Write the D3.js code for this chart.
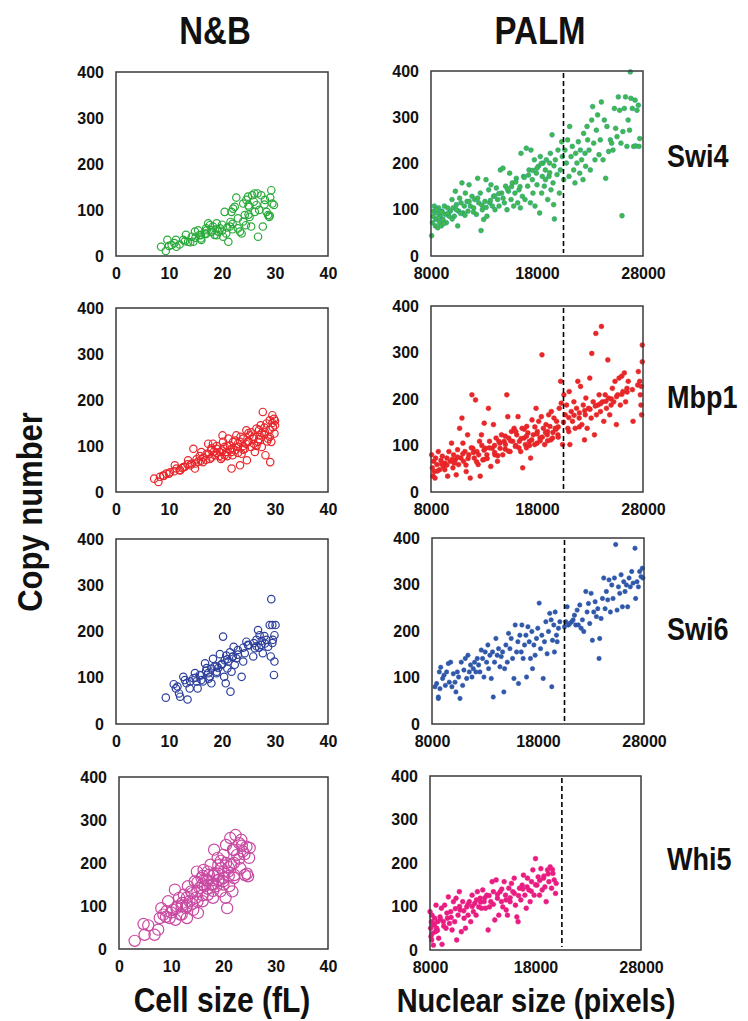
<!DOCTYPE html>
<html>
<head>
<meta charset="utf-8">
<script src="https://cdn.jsdelivr.net/npm/d3@7"></script>
<style>
  body { margin: 0; background: #fff; }
  text { font-family: "Liberation Sans", Arial, sans-serif; font-weight: bold; fill: #111; }
</style>
</head>
<body>
<svg id="chart" width="748" height="1021"></svg>
<script>
// ---- data: [x, y] pairs ----
// N&B: x = cell size (fL), y = copy number
const nbSwi4 = [[8.5,20],[9.4,11],[9.7,35],[10.5,24],[11.4,20],[11.3,35],[12.7,35],[13.2,46],[13.6,31],[14.3,42],[14.6,31],[14.9,53],[15.5,56],[15.8,46],[16.1,35],[16.8,49],[17.1,56],[17.4,71],[17.7,67],[18.0,56],[18.3,64],[18.6,46],[19.0,71],[19.3,53],[19.6,60],[20.2,42],[20.5,96],[20.8,49],[21.2,31],[21.5,64],[21.6,74],[21.8,96],[22.1,103],[22.4,107],[22.7,127],[23.0,82],[23.4,53],[23.7,49],[24.0,114],[24.3,89],[24.5,67],[24.6,122],[24.9,129],[25.1,107],[25.2,85],[25.5,64],[25.7,132],[26.1,136],[26.2,96],[26.5,111],[26.7,136],[26.8,42],[27.4,132],[27.7,64],[28.1,122],[28.4,96],[28.7,89],[28.9,85],[29.1,127],[29.3,143],[29.5,114],[29.8,111],[12,25],[13,32],[15,40],[16,45],[17,48],[17,60],[18,52],[19,58],[20,55],[21,62],[22,58],[22,70],[16,38],[14,30],[11,28],[19,45],[20,68],[23,60],[24,75],[25,90],[25,110],[26,118],[27,100],[28,112],[29,88],[10,22]];

const nbMbp1 = [[7.2,29],[8.0,22],[8.3,33],[8.9,36],[9.5,40],[10.2,43],[11.1,58],[11.4,51],[12.1,47],[12.7,54],[13.6,69],[14.3,62],[14.6,94],[14.9,51],[15.2,71],[15.8,78],[16.1,87],[16.4,65],[17.1,83],[17.4,105],[17.7,72],[18.0,91],[18.3,105],[18.6,80],[19.0,94],[19.6,87],[19.8,72],[20.1,123],[20.2,109],[20.5,98],[20.8,87],[21.2,116],[21.5,101],[21.8,51],[21.8,87],[22.1,109],[22.4,91],[22.7,123],[23.0,98],[23.4,58],[23.4,109],[23.7,83],[24.0,116],[24.3,94],[24.6,134],[24.7,69],[24.9,109],[25.2,123],[25.5,98],[25.9,116],[26.2,87],[26.5,138],[26.8,109],[27.1,123],[27.3,145],[27.5,98],[27.7,174],[28.1,130],[28.2,80],[28.4,149],[28.7,116],[29.0,156],[29.1,65],[29.3,109],[29.5,167],[29.6,141],[29.8,159],[29.9,127],[20,90],[21,100],[22,95],[23,105],[24,100],[25,110],[26,120],[27,115],[28,125],[29,135],[30,145],[19,85],[18,75],[17,70],[16,68],[15,62],[14,58],[13,55],[12,48],[11,45],[10,40],[9,35],[22,80],[23,85],[24,92],[25,128],[26,105],[27,135],[28,140],[29,120],[30,155],[21,78],[20,75],[19,100],[18,95],[22.5,112],[23.5,120],[24.5,105],[25.5,130],[26.5,100],[27.5,128],[28.5,110],[29.5,150],[20.5,80],[21.5,92],[19.5,78],[18.5,88],[17.5,82],[16.5,75],[15.5,66],[13.5,60],[12.5,52]];

const nbSwi6 = [[9.4,57],[10.9,86],[11.3,77],[11.6,81],[11.9,66],[12.1,59],[12.7,102],[13.0,95],[13.3,88],[13.5,53],[13.9,77],[14.6,99],[14.9,110],[15.2,92],[15.4,77],[15.8,106],[16.1,95],[16.4,92],[16.8,131],[17.1,121],[17.4,110],[17.7,102],[18.0,88],[18.3,141],[18.6,124],[19.0,113],[19.3,121],[19.6,151],[19.9,128],[20.2,189],[20.4,102],[20.7,88],[20.8,148],[21.2,135],[21.5,155],[21.6,70],[21.8,113],[22.0,146],[22.2,167],[22.4,128],[22.7,142],[23.0,160],[23.7,102],[24.0,135],[24.3,153],[24.6,178],[24.9,171],[25.9,146],[26.2,164],[26.5,182],[26.8,203],[27.1,192],[27.4,171],[27.7,153],[28.1,174],[28.4,182],[28.7,167],[29.0,214],[29.2,146],[29.3,270],[29.5,214],[29.6,182],[29.8,106],[29.9,135],[29.9,192],[30.1,214],[17,115],[18,120],[19,125],[20,130],[21,140],[22,145],[16,105],[15,100],[14,92],[23,150],[25,170],[26,175],[27,165],[28,190],[21,120],[19,110],[24,165],[17.5,98],[20.5,138],[26.5,168],[27.5,180],[29.5,175]];

const nbWhi5 = [[3.0,19],[4.9,33],[4.7,58],[5.6,55],[6.8,33],[7.5,45],[7.8,72],[8.1,95],[8.5,80],[9.1,88],[9.4,111],[9.7,72],[10.3,91],[10.7,138],[10.8,68],[11.1,99],[11.5,119],[11.7,80],[12.1,107],[12.4,126],[12.8,95],[13.0,72],[13.2,146],[13.5,111],[13.8,134],[14.2,91],[14.5,157],[14.7,119],[14.9,180],[15.1,84],[15.4,142],[15.8,165],[16.0,111],[16.2,184],[16.4,146],[16.7,161],[17.0,126],[17.2,172],[17.5,196],[17.7,150],[18.0,119],[18.2,231],[18.3,176],[18.6,146],[18.9,212],[19.1,161],[19.4,134],[19.6,188],[19.9,157],[20.0,219],[20.4,119],[20.5,242],[20.7,95],[20.9,180],[21.1,146],[21.3,258],[21.5,196],[21.7,134],[21.8,231],[22.1,172],[22.3,265],[22.6,219],[23.0,246],[23.2,188],[23.4,254],[23.7,227],[24.1,172],[24.4,238],[24.7,169],[25.0,235],[24.9,212],[12,100],[13,120],[14,130],[15,135],[16,150],[17,160],[18,170],[19,175],[20,180],[21,190],[22,200],[23,210],[14,105],[15,110],[16,125],[17,140],[18,150],[19,160],[20,165],[11,95],[10,85],[13,100],[15,155],[17,180],[19,195],[21,170],[22,230],[24,220],[12,80],[9,75],[16,170],[18,135],[20,150],[22,165],[24.5,175],[23.5,240],[20.5,200],[19.5,205]];

// PALM: x = nuclear size (pixels), y = copy number
const palmSwi4 = [[8060,44],[8130,72],[8190,86],[8250,97],[8310,108],[8410,65],[8470,79],[8570,93],[8630,61],[8720,104],[8820,72],[8880,86],[8970,65],[9040,97],[9130,79],[9260,108],[9350,90],[9450,72],[9570,104],[9700,86],[9820,97],[9980,122],[10080,104],[10200,86],[10300,140],[10390,111],[10520,65],[10610,97],[10700,125],[10830,115],[10920,158],[11020,93],[11140,108],[11240,136],[11400,118],[11490,97],[11590,154],[11710,108],[11870,129],[12030,104],[12120,122],[12280,90],[12400,168],[12500,115],[12650,136],[12720,55],[12840,100],[12970,79],[13090,118],[13190,165],[13280,86],[13440,143],[13530,115],[13660,154],[13790,108],[13910,129],[14040,100],[14160,147],[14290,122],[14420,108],[14540,186],[14670,136],[14790,190],[14920,115],[15040,151],[15170,100],[15300,140],[15420,179],[15550,122],[15670,158],[15800,108],[15920,136],[16050,168],[16180,115],[16300,143],[16430,104],[16490,222],[16620,129],[16740,172],[16870,122],[16990,233],[17120,151],[17250,186],[17370,115],[17430,229],[17560,165],[17620,136],[17750,208],[17810,108],[17940,179],[18000,154],[18130,194],[18250,93],[18310,215],[18440,136],[18500,172],[18570,201],[18690,151],[18790,186],[18880,208],[19010,122],[19130,172],[19190,201],[19260,222],[19320,143],[19420,262],[19510,158],[19570,111],[19640,80],[19730,208],[19890,176],[19980,229],[20110,136],[20200,186],[20330,247],[20390,215],[20520,165],[20640,229],[20770,201],[20890,251],[21020,172],[21080,280],[21210,215],[21330,237],[21460,186],[21580,158],[21650,222],[21770,201],[21900,247],[22030,179],[22090,229],[22210,208],[22340,165],[22400,265],[22530,222],[22590,194],[22720,280],[22780,251],[22910,229],[23030,186],[23160,294],[23250,323],[23350,244],[23470,208],[23600,272],[23720,305],[23850,219],[23970,251],[24070,333],[24230,208],[24350,294],[24480,168],[24600,280],[24760,226],[24920,251],[25040,244],[25170,229],[25300,319],[25420,276],[25550,258],[25670,344],[25800,315],[25920,244],[26020,87],[26100,269],[26240,319],[26350,344],[26480,237],[26600,294],[26730,272],[26800,398],[26860,341],[26990,319],[27120,237],[27250,337],[27310,238],[27430,315],[27560,326],[27620,237],[27690,254],[8500,100],[8700,82],[9000,95],[9200,70],[9600,92],[10000,80],[10400,100],[10800,92],[11200,88],[11600,118],[12000,95],[12400,125],[12800,110],[13200,105],[13600,120],[14000,130],[14400,135],[14800,125],[15200,145],[15600,150],[16000,160],[16400,150],[16800,170],[17200,175],[17600,185],[18000,190],[18400,200],[18800,165],[19200,180],[19600,195]];

const palmMbp1 = [[8060,80],[8130,52],[8190,34],[8250,66],[8310,44],[8380,30],[8440,73],[8560,59],[8690,87],[8820,48],[8940,68],[9070,77],[9190,55],[9320,62],[9500,73],[9570,34],[9690,87],[9820,66],[9940,105],[10070,52],[10130,80],[10290,69],[10380,37],[10510,91],[10600,59],[10700,137],[10820,73],[10920,159],[11010,105],[11070,66],[11200,87],[11320,44],[11450,123],[11570,80],[11700,30],[11860,209],[11950,94],[12080,73],[12200,198],[12330,87],[12450,59],[12580,109],[12640,34],[12760,123],[12890,69],[13020,148],[13140,94],[13270,80],[13420,180],[13520,109],[13640,55],[13770,94],[13890,145],[14020,80],[14140,116],[14270,66],[14400,109],[14520,94],[14650,123],[14770,80],[14900,109],[15020,102],[15150,209],[15240,162],[15330,116],[15460,87],[15590,130],[15710,109],[15840,137],[15960,98],[16090,123],[16210,162],[16340,109],[16460,87],[16590,137],[16650,52],[16780,116],[16900,102],[17030,141],[17150,127],[17280,109],[17400,73],[17530,155],[17650,123],[17780,102],[17910,180],[18030,130],[18160,152],[18280,116],[18410,162],[18470,295],[18600,137],[18720,102],[18850,145],[18970,123],[19100,166],[19220,141],[19350,173],[19470,116],[19600,159],[19720,137],[19850,152],[19970,123],[20100,180],[20230,238],[20290,191],[20410,102],[20540,209],[20660,166],[20790,187],[20910,137],[21040,216],[21100,102],[21230,173],[21350,152],[21480,194],[21600,137],[21730,180],[21850,238],[21980,159],[22110,227],[22230,145],[22360,187],[22480,112],[22550,166],[22610,202],[22730,137],[22860,180],[22980,245],[23110,159],[23170,298],[23300,194],[23420,123],[23550,341],[23610,166],[23740,187],[23860,209],[23990,173],[24080,356],[24180,194],[24300,152],[24430,209],[24550,180],[24680,284],[24740,202],[24860,166],[24990,187],[25110,223],[25240,194],[25360,238],[25490,145],[25610,209],[25740,245],[25860,187],[25990,249],[26110,216],[26240,256],[26360,194],[26490,223],[26610,238],[27060,152],[27560,259],[27690,238],[27750,209],[27810,187],[27870,166],[27930,316],[27930,280],[27840,227],[9000,60],[9500,58],[10000,70],[10500,75],[11000,82],[11500,72],[12000,85],[12500,80],[13000,90],[13500,95],[14000,100],[14500,105],[15000,92],[15500,110],[16000,100],[16500,115],[17000,120],[17500,112],[18000,125],[18500,118],[19000,130],[19500,128],[20000,140],[20500,150],[21000,160],[21500,165],[22000,170],[22500,175],[23000,178],[23500,185],[24000,190],[24500,195],[25000,200],[25500,205],[26000,210],[26500,215],[27000,220],[27500,230],[13000,70],[14000,85],[15000,120],[16000,130],[17000,95],[18000,105],[19000,110],[20000,118],[21000,130],[22000,140],[8600,45],[9300,48],[10200,62],[11300,58],[12300,65],[13300,72],[14300,78],[15300,88],[16300,95],[17300,100],[18300,110],[19300,112],[16800,135],[17800,140],[18800,128],[19800,135],[12800,100],[11800,95]];

const palmSwi6 = [[8280,80],[8440,87],[8600,58],[8600,55],[8690,112],[8750,76],[8820,122],[9000,98],[9130,105],[9260,83],[9380,112],[9540,130],[9630,90],[9760,133],[9880,80],[10010,108],[10170,90],[10260,69],[10390,112],[10510,101],[10640,55],[10760,133],[10890,83],[11010,116],[11140,141],[11270,98],[11390,148],[11520,112],[11640,127],[11770,101],[11890,119],[12020,133],[12140,112],[12270,141],[12400,127],[12520,112],[12650,159],[12770,141],[12900,101],[13020,155],[13150,133],[13270,170],[13340,119],[13460,148],[13590,98],[13710,155],[13780,58],[13900,133],[14030,184],[14150,148],[14280,162],[14410,123],[14530,145],[14660,155],[14780,69],[14850,119],[14970,170],[15100,133],[15220,195],[15350,162],[15470,184],[15600,141],[15730,98],[15850,213],[15980,155],[16100,177],[16160,87],[16290,191],[16420,155],[16480,213],[16600,141],[16730,170],[16860,191],[16920,101],[17050,209],[17170,177],[17290,141],[17420,199],[17480,119],[17610,170],[17730,148],[17860,184],[17980,206],[18110,260],[18240,162],[18360,191],[18490,98],[18610,177],[18740,220],[18860,151],[18990,199],[19110,238],[19240,224],[19300,80],[19370,180],[19490,213],[19550,155],[19620,241],[19740,191],[19810,177],[19930,206],[20060,220],[20500,209],[20620,220],[20750,252],[20870,213],[21000,216],[21190,220],[21310,224],[21440,234],[21560,213],[21690,245],[21810,213],[21940,256],[22070,206],[22190,224],[22320,199],[22510,285],[22630,241],[22760,259],[22880,216],[23010,281],[23130,180],[23260,241],[23390,263],[23510,231],[23640,248],[23760,141],[23820,184],[23950,227],[24080,270],[24200,314],[24330,248],[24450,285],[24580,267],[24700,310],[24830,241],[24960,299],[25080,270],[25210,314],[25330,386],[25460,245],[25590,295],[25710,281],[25840,321],[25960,252],[26090,306],[26210,285],[26340,299],[26460,252],[26590,314],[26710,295],[26840,328],[26970,303],[27150,378],[27210,270],[27340,306],[27470,295],[27590,328],[27720,317],[27840,335],[27900,314]];

const palmWhi5 = [[8000,88],[8060,50],[8090,31],[8130,65],[8160,23],[8190,80],[8220,38],[8250,61],[8320,11],[8380,57],[8440,73],[8510,42],[8570,103],[8630,50],[8730,65],[8820,27],[8950,76],[9080,96],[9140,13],[9270,65],[9390,103],[9520,50],[9650,73],[9740,122],[9840,61],[9960,88],[10090,46],[10220,111],[10340,65],[10470,119],[10530,23],[10660,80],[10780,134],[10850,92],[10970,42],[11100,111],[11230,73],[11360,50],[11480,99],[11610,80],[11730,111],[11860,65],[11990,126],[12110,88],[12240,107],[12370,80],[12490,134],[12620,99],[12750,119],[12880,96],[13000,138],[13130,111],[13260,96],[13380,126],[13510,46],[13640,99],[13760,111],[13890,157],[14010,134],[14140,69],[14270,161],[14390,119],[14520,80],[14650,134],[14770,111],[14900,99],[15030,157],[15160,126],[15220,92],[15340,80],[15470,142],[15590,111],[15720,153],[15850,134],[15980,165],[16100,103],[16230,76],[16350,65],[16480,142],[16610,115],[16740,149],[16860,172],[16990,126],[17120,96],[17240,165],[17370,138],[17490,111],[17620,157],[17750,184],[17870,126],[18000,210],[18130,149],[18250,168],[18380,126],[18510,187],[18630,138],[18760,165],[18890,145],[19010,111],[19140,184],[19270,157],[19390,191],[19520,142],[19650,176],[19770,161],[19900,130],[19960,153],[8400,60],[8700,45],[9000,70],[9300,55],[9600,85],[10000,75],[10400,95],[10800,100],[11200,90],[11600,105],[12000,100],[12400,115],[12800,110],[13200,120],[13600,125],[14000,105],[14400,128],[14800,140],[15200,115],[15600,120],[16000,130],[16400,125],[16800,140],[17200,145],[17600,135],[18000,150],[18400,160],[18800,170],[19200,175],[19600,185]];

// axes / labels
const nbXTicks = [0, 10, 20, 30, 40];
const palmXTicks = [8000, 18000, 28000];
const yTicks = [0, 100, 200, 300, 400];
const proteins = ["Swi4", "Mbp1", "Swi6", "Whi5"];
const dividerX = 20500; // dashed line in the PALM panels

const svg = d3.select("#chart");

// panel layout: [left, top, right, bottom]
const panels = [
  {data: nbSwi4,  kind: "nb",   box: [116, 72, 328, 256],  color: "#2aaa3a", r: 3.7},
  {data: palmSwi4, kind: "palm", box: [431, 71, 643, 256],  color: "#45b84a", stroke: "#1f9f8a", r: 2.4},
  {data: nbMbp1,  kind: "nb",   box: [116, 308, 328, 492], color: "#e8262b", r: 3.7},
  {data: palmMbp1, kind: "palm", box: [431, 306, 643, 492], color: "#e8262b", stroke: "#e2231f", r: 2.4},
  {data: nbSwi6,  kind: "nb",   box: [116, 539, 328, 724], color: "#2d3f9c", r: 3.7},
  {data: palmSwi6, kind: "palm", box: [432, 538, 644, 724], color: "#2f58aa", stroke: "#2f58aa", r: 2.2},
  {data: nbWhi5,  kind: "nb",   box: [119, 777, 328, 949], color: "#c94aa2", r: 5.6},
  {data: palmWhi5, kind: "palm", box: [430, 776, 641, 950], color: "#e91c82", stroke: "#e91c82", r: 2.4}
];

panels.forEach(function(p){
  const [x0, y0, x1, y1] = p.box;
  const x = d3.scaleLinear()
      .domain(p.kind == "nb" ? [0, 40] : [8000, 28000])
      .range([x0, x1]);
  const y = d3.scaleLinear().domain([0, 400]).range([y1, y0]);

  const g = svg.append("g");

  g.append("rect")
    .attr("x", x0).attr("y", y0)
    .attr("width", x1 - x0).attr("height", y1 - y0)
    .attr("fill", "#fff");

  // points
  const dots = g.append("g").selectAll("circle")
    .data(p.data)
    .enter()
    .append("circle")
      .attr("cx", d => x(d[0]))
      .attr("cy", d => y(d[1]))
      .attr("r", p.r);
  if (p.kind == "nb") {
    dots.attr("fill", "none").attr("stroke", p.color).attr("stroke-width", 1.2);
  } else {
    dots.attr("fill", p.color).attr("stroke", p.stroke).attr("stroke-width", 0.6);
  }

  if (p.kind == "palm") {
    g.append("line")
      .attr("x1", x(dividerX)).attr("x2", x(dividerX))
      .attr("y1", y0 + 2).attr("y2", y1 - 3)
      .attr("stroke", "#000")
      .attr("stroke-width", 1.6)
      .attr("stroke-dasharray", "5,3");
  }

  g.append("rect")
    .attr("x", x0).attr("y", y0)
    .attr("width", x1 - x0).attr("height", y1 - y0)
    .attr("fill", "none")
    .attr("stroke", "#3a3a3a")
    .attr("stroke-width", 1.5);

  // axes (labels only, no tick marks)
  const xAxis = g.append("g")
    .attr("transform", `translate(0,${y1})`)
    .call(d3.axisBottom(x).tickValues(p.kind == "nb" ? nbXTicks : palmXTicks)
      .tickSize(0).tickPadding(12).tickFormat(d3.format("d")));
  const yAxis = g.append("g")
    .attr("transform", `translate(${x0},0)`)
    .call(d3.axisLeft(y).tickValues(yTicks).tickSize(0).tickPadding(12));
  [xAxis, yAxis].forEach(function(a){
    a.select(".domain").remove();
    a.selectAll("text")
      .style("font-family", '"Liberation Sans", Arial, sans-serif')
      .style("font-size", "16px")
      .style("font-weight", "bold")
      .attr("fill", "#111");
  });
});

// big labels are drawn slightly stretched vertically (condensed look of the original)
function label(x, y, txt, size, anchor, extra) {
  return svg.append("text")
    .attr("transform", `translate(${x},${y})${extra || ""} scale(1,1.16)`)
    .attr("text-anchor", anchor)
    .style("font-size", size + "px")
    .text(txt);
}

// column headers
label(215, 44, "N&B", 33, "middle");
label(540, 44, "PALM", 33, "middle");

// row labels
const rowY = [167, 408, 640, 870];
proteins.forEach(function(d, i){
  label(667, rowY[i], d, 27, "start");
});

// axis titles
label(222, 1012, "Cell size (fL)", 30, "middle");
label(536, 1012, "Nuclear size (pixels)", 29, "middle");
label(42, 512, "Copy number", 31, "middle", " rotate(-90)");
</script>
</body>
</html>
